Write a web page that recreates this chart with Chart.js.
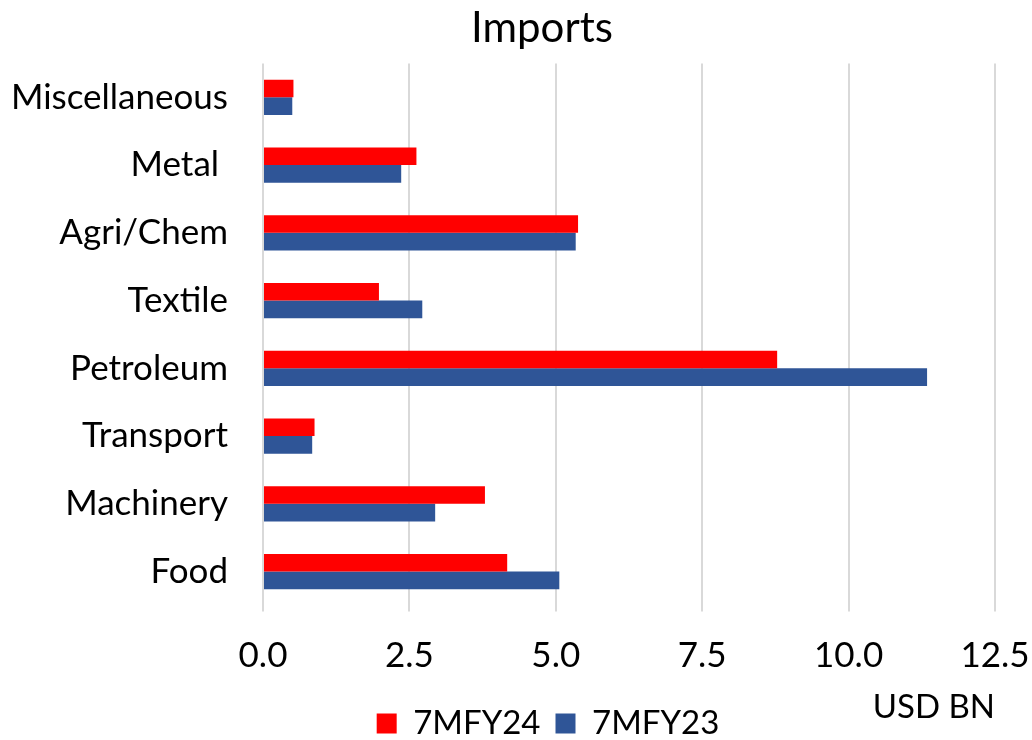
<!DOCTYPE html>
<html>
<head>
<meta charset="utf-8">
<script src="https://cdn.jsdelivr.net/npm/chart.js@4/dist/chart.umd.min.js"></script>
<style>
  html, body { margin: 0; padding: 0; background: #ffffff; }
  #wrap { width: 1032px; height: 740px; position: relative; }
</style>
</head>
<body>
<div id="wrap"><canvas id="chart" width="1032" height="740"></canvas></div>
<script>
// Import categories, listed top to bottom
const categories = ['Miscellaneous', 'Metal ', 'Agri/Chem', 'Textile', 'Petroleum', 'Transport', 'Machinery', 'Food'];

// Imports by category, USD billion
const fy24Values = [0.52, 2.62, 5.38, 1.98, 8.78, 0.88, 3.79, 4.17];
const fy23Values = [0.50, 2.36, 5.34, 2.72, 11.34, 0.84, 2.94, 5.06];

const seriesNames = ['7MFY24', '7MFY23'];
const axisTicks = [0, 2.5, 5, 7.5, 10, 12.5];

const FONT = 'Lato, "Open Sans", sans-serif';

// Centre the title and legend over the plot rather than the whole canvas
const shiftBlocks = {
  id: 'shiftBlocks',
  afterLayout(chart) {
    if (chart.titleBlock) { chart.titleBlock.left = 89; }
    if (chart.legend) { chart.legend.left = 101; }
  }
};

new Chart(document.getElementById('chart'), {
  type: 'bar',
  data: {
    labels: categories,
    datasets: [
      { label: seriesNames[0], data: fy24Values, backgroundColor: '#FF0000' },
      { label: seriesNames[1], data: fy23Values, backgroundColor: '#2F5597' }
    ]
  },
  plugins: [shiftBlocks],
  options: {
    indexAxis: 'y',
    responsive: false,
    animation: false,
    devicePixelRatio: 1,
    datasets: { bar: { categoryPercentage: 0.52, barPercentage: 1.0 } },
    layout: { padding: { left: 0, right: 37, top: 0, bottom: -10 } },
    scales: {
      x: {
        min: axisTicks[0],
        max: axisTicks[axisTicks.length - 1],
        afterBuildTicks: (scale) => { scale.ticks = axisTicks.map(v => ({ value: v })); },
        afterFit: (scale) => { scale.paddingLeft = 0; scale.paddingRight = 0; },
        grid: { color: '#D9D9D9', lineWidth: 2, drawTicks: true, tickLength: 6 },
        border: { display: false },
        ticks: {
          padding: 23,
          color: '#000000',
          font: { family: FONT, size: 35 },
          maxRotation: 0,
          callback: (v) => Number(v).toFixed(1)
        },
        title: {
          display: true,
          text: 'USD BN',
          align: 'end',
          color: '#000000',
          font: { family: FONT, size: 33 },
          padding: { top: -12, bottom: -35 }
        }
      },
      y: {
        grid: { display: false },
        border: { display: false },
        afterFit: (scale) => { scale.width = 263; },
        ticks: {
          padding: 27,
          color: '#000000',
          font: { family: FONT, size: 35 }
        }
      }
    },
    plugins: {
      title: {
        display: true,
        text: 'Imports',
        color: '#000000',
        font: { family: FONT, size: 42, weight: 'normal' },
        padding: { top: 3, bottom: 10 }
      },
      legend: {
        position: 'bottom',
        align: 'center',
        labels: {
          boxWidth: 20,
          boxHeight: 20,
          padding: 15,
          color: '#000000',
          font: { family: FONT, size: 33 }
        }
      },
      tooltip: { enabled: false }
    }
  }
});
</script>
</body>
</html>
